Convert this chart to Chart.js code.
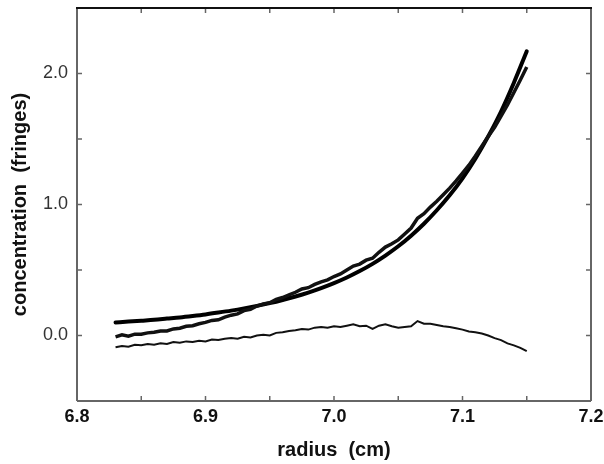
<!DOCTYPE html>
<html>
<head>
<meta charset="utf-8">
<script src="https://cdn.jsdelivr.net/npm/chart.js@4"></script>
<style>
  html, body { margin: 0; padding: 0; background: #fff; }
  #wrap { width: 604px; height: 464px; }
</style>
</head>
<body>
<div id="wrap"><canvas id="chart" width="604" height="464"></canvas></div>
<script>
// fitted curve (smooth), read every 0.01 cm
const radiusFit = [6.83, 6.84, 6.85, 6.86, 6.87, 6.88, 6.89, 6.90, 6.91, 6.92, 6.93,
  6.94, 6.95, 6.96, 6.97, 6.98, 6.99, 7.00, 7.01, 7.02, 7.03, 7.04, 7.05, 7.06,
  7.07, 7.08, 7.09, 7.10, 7.11, 7.12, 7.13, 7.14, 7.15];
const fitValues = [0.100, 0.106, 0.113, 0.120, 0.129, 0.138, 0.149, 0.161, 0.175,
  0.190, 0.207, 0.226, 0.247, 0.271, 0.298, 0.328, 0.362, 0.400, 0.443, 0.492,
  0.547, 0.610, 0.681, 0.762, 0.853, 0.956, 1.07, 1.20, 1.35, 1.52, 1.71, 1.93, 2.17];

// measured data and residuals, read every 0.005 cm
const radiusData = [6.830, 6.835, 6.840, 6.845, 6.850, 6.855, 6.860, 6.865, 6.870,
  6.875, 6.880, 6.885, 6.890, 6.895, 6.900, 6.905, 6.910, 6.915, 6.920, 6.925,
  6.930, 6.935, 6.940, 6.945, 6.950, 6.955, 6.960, 6.965, 6.970, 6.975, 6.980,
  6.985, 6.990, 6.995, 7.000, 7.005, 7.010, 7.015, 7.020, 7.025, 7.030, 7.035,
  7.040, 7.045, 7.050, 7.055, 7.060, 7.065, 7.070, 7.075, 7.080, 7.085, 7.090,
  7.095, 7.100, 7.105, 7.110, 7.115, 7.120, 7.125, 7.130, 7.135, 7.140, 7.145, 7.150];
const dataValues = [-0.01, 0.005, -0.005, 0.01, 0.01, 0.02, 0.025, 0.035, 0.035, 0.05,
  0.055, 0.07, 0.075, 0.09, 0.10, 0.115, 0.12, 0.14, 0.155, 0.165, 0.19, 0.2,
  0.225, 0.24, 0.25, 0.275, 0.29, 0.31, 0.33, 0.355, 0.365, 0.39, 0.41, 0.425,
  0.45, 0.47, 0.50, 0.53, 0.545, 0.575, 0.59, 0.635, 0.675, 0.70, 0.73, 0.775,
  0.82, 0.895, 0.93, 0.98, 1.025, 1.075, 1.125, 1.18, 1.24, 1.30, 1.37, 1.445,
  1.52, 1.59, 1.675, 1.76, 1.855, 1.95, 2.05];
const residualValues = [-0.09, -0.08, -0.085, -0.07, -0.075, -0.065, -0.07, -0.06,
  -0.065, -0.05, -0.055, -0.045, -0.05, -0.04, -0.045, -0.03, -0.035, -0.025,
  -0.02, -0.025, -0.01, -0.015, 0.0, 0.005, 0.0, 0.02, 0.025, 0.035, 0.04, 0.05,
  0.045, 0.06, 0.065, 0.06, 0.07, 0.065, 0.075, 0.085, 0.07, 0.075, 0.05, 0.075,
  0.085, 0.07, 0.06, 0.065, 0.07, 0.11, 0.09, 0.09, 0.08, 0.07, 0.065, 0.055,
  0.045, 0.03, 0.025, 0.015, 0.0, -0.02, -0.035, -0.06, -0.075, -0.095, -0.12];

// axis ranges and labelled ticks
const xRange = [6.8, 7.2];
const yRange = [-0.5, 2.5];
const xLabelled = [6.8, 6.9, 7.0, 7.1, 7.2];
const yLabelled = [0.0, 1.0, 2.0];

const pts = (xs, ys) => xs.map((x, i) => ({ x: x, y: ys[i] }));
const FONT = "'Liberation Sans', Arial, sans-serif";
const near = (v, list) => list.some(l => Math.abs(l - v) < 1e-6);

// frame + inward ticks on all four sides
const framePlugin = {
  id: 'frame',
  afterDatasetsDraw(chart) {
    const { ctx, chartArea: a, scales: { x, y } } = chart;
    const seg = (x1, y1, x2, y2) => { ctx.beginPath(); ctx.moveTo(x1, y1); ctx.lineTo(x2, y2); ctx.stroke(); };
    ctx.save();
    ctx.lineWidth = 1.5;
    ctx.strokeStyle = '#666';
    x.ticks.forEach(t => {
      const px = x.getPixelForValue(t.value);
      seg(px, a.bottom, px, a.bottom - 5);
      seg(px, a.top, px, a.top + 5);
    });
    y.ticks.forEach(t => {
      const py = y.getPixelForValue(t.value);
      seg(a.left, py, a.left + 5, py);
      seg(a.right, py, a.right - 5, py);
    });
    ctx.lineWidth = 2;
    seg(a.left, a.top, a.left, a.bottom);
    seg(a.left, a.bottom, a.right, a.bottom);
    seg(a.right, a.top, a.right, a.bottom);
    ctx.strokeStyle = '#111';
    seg(a.left - 1, a.top, a.right + 1, a.top);
    ctx.restore();
  }
};

new Chart(document.getElementById('chart'), {
  type: 'line',
  data: {
    datasets: [
      {
        label: 'residuals',
        data: pts(radiusData, residualValues),
        borderColor: '#111', borderWidth: 2, pointRadius: 0, tension: 0
      },
      {
        label: 'data',
        data: pts(radiusData, dataValues),
        borderColor: '#111', borderWidth: 3.5, pointRadius: 0, tension: 0
      },
      {
        label: 'fit',
        data: pts(radiusFit, fitValues),
        borderColor: '#000', borderWidth: 4, pointRadius: 0,
        cubicInterpolationMode: 'monotone', borderCapStyle: 'round'
      }
    ]
  },
  options: {
    responsive: false,
    animation: false,
    devicePixelRatio: 1,
    layout: { padding: { top: 8, right: 13, left: 0, bottom: 0 } },
    plugins: { legend: { display: false }, tooltip: { enabled: false } },
    scales: {
      x: {
        type: 'linear',
        min: xRange[0], max: xRange[1],
        grid: { display: false, drawTicks: false },
        border: { display: false },
        ticks: {
          stepSize: 0.05, autoSkip: false, maxRotation: 0, padding: 5,
          color: '#111',
          font: { family: FONT, size: 18, weight: 'bold' },
          callback: v => near(v, xLabelled) ? v.toFixed(1) : ''
        },
        title: {
          display: true, text: 'radius  (cm)', color: '#111',
          font: { family: FONT, size: 20, weight: 'bold' },
          padding: { top: 0, bottom: 2 }
        },
        afterFit: s => { s.height = 63; s.paddingLeft = 0; s.paddingRight = 0; }
      },
      y: {
        type: 'linear',
        min: yRange[0], max: yRange[1],
        grid: { display: false, drawTicks: false },
        border: { display: false },
        ticks: {
          stepSize: 0.5, autoSkip: false, padding: 9,
          color: '#333',
          font: { family: FONT, size: 18 },
          callback: v => near(v, yLabelled) ? v.toFixed(1) : ''
        },
        title: {
          display: true, text: 'concentration  (fringes)', color: '#111',
          font: { family: FONT, size: 20, weight: 'bold' },
          padding: { top: 8, bottom: 0 }
        },
        afterFit: s => { s.width = 77; s.paddingTop = 0; s.paddingBottom = 0; }
      }
    }
  },
  plugins: [framePlugin]
});
</script>
</body>
</html>
